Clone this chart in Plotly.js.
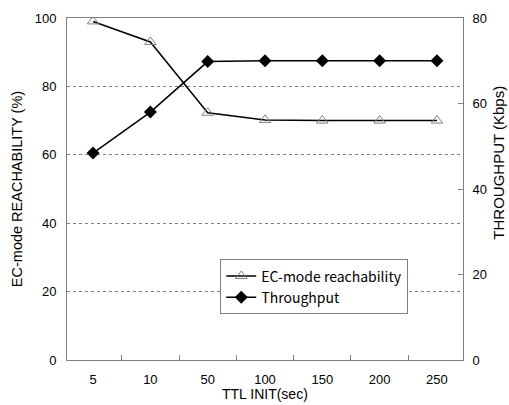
<!DOCTYPE html>
<html><head><meta charset="utf-8">
<script src="https://cdn.plot.ly/plotly-3.0.1.min.js"></script>
<style>html,body{margin:0;padding:0;background:#fff;}#chart{width:509px;height:405px;}</style>
</head><body><div id="chart"></div>
<script>
const categories = ["5","10","50","100","150","200","250"];
const reachability = [99, 93, 72.3, 70.2, 70, 70, 70];
const throughput = [48.4, 58, 69.8, 70, 70, 70, 70];
const leftTicks = [0, 20, 40, 60, 80, 100];
const rightTicks = [0, 20, 40, 60, 80];

const fontMain = "Liberation Sans, Arial, sans-serif";
const fontJP = "Noto Sans CJK JP, sans-serif";

const data = [
  {x: categories, y: reachability, name: "EC-mode reachability", type: "scatter", mode: "lines+markers",
   yaxis: "y", line: {color: "#000", width: 1.5},
   marker: {symbol: "triangle-up-open", size: 10, color: "#808080", line: {width: 1, color: "#808080"}}},
  {x: categories, y: throughput, name: "Throughput", type: "scatter", mode: "lines+markers",
   yaxis: "y2", line: {color: "#000", width: 1.5},
   marker: {symbol: "diamond", size: 10, color: "#000"}}
];

const layout = {
  width: 509, height: 405,
  margin: {l: 66.5, r: 46, t: 17.5, b: 45},
  paper_bgcolor: "#fff", plot_bgcolor: "#fff",
  font: {family: fontMain, size: 12, color: "#000"},
  showlegend: true,
  legend: {x: 0.387, y: 0.294, xanchor: "left", yanchor: "top", bgcolor: "#fff", tracegroupgap: 0,
           bordercolor: "#808080", borderwidth: 1, font: {family: fontJP, size: 14, color: "#000"}},
  xaxis: {type: "category", showgrid: false, zeroline: false, showline: true, linecolor: "#808080", linewidth: 1,
          mirror: true, ticks: "inside", ticklen: 5, tickcolor: "#808080", tickson: "boundaries",
          tickfont: {family: fontMain, size: 13}, ticklabelstandoff: 7},
  yaxis: {range: [0, 100], tickvals: leftTicks, showgrid: true, gridcolor: "#808080", griddash: "dot", gridwidth: 1,
          zeroline: false, showline: true, linecolor: "#808080", linewidth: 1, ticks: "", ticklabelstandoff: 7,
          tickfont: {family: fontMain, size: 13},
          title: {text: "EC-mode REACHABILITY (%)", font: {family: fontMain, size: 14.5}, standoff: 8}},
  yaxis2: {range: [0, 80], tickvals: rightTicks, overlaying: "y", side: "right", showgrid: false, zeroline: false,
           showline: true, linecolor: "#808080", linewidth: 1, ticks: "inside", ticklen: 5, tickcolor: "#808080",
           ticklabelstandoff: 6, tickfont: {family: fontMain, size: 13}},
  annotations: [
    {text: "THROUGHPUT (Kbps)", xref: "paper", yref: "paper", x: 1.091, y: 0.577,
     xanchor: "center", yanchor: "middle", textangle: -90, showarrow: false,
     font: {family: fontMain, size: 15, color: "#000"}},
    {text: "TTL INIT(sec)", xref: "paper", yref: "paper", x: 0.5, y: -0.1,
     xanchor: "center", yanchor: "middle", showarrow: false,
     font: {family: fontMain, size: 14, color: "#000"}}
  ]
};

Plotly.newPlot("chart", data, layout, {displayModeBar: false, staticPlot: true});
</script></body></html>
